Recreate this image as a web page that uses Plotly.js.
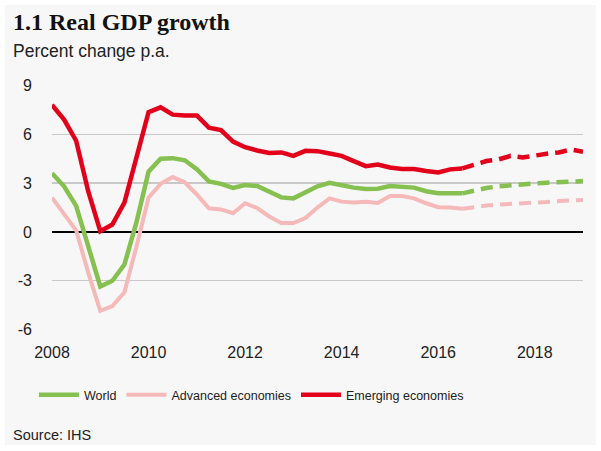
<!DOCTYPE html>
<html>
<head>
<meta charset="utf-8">
<script src="https://cdn.plot.ly/plotly-3.0.1.min.js"></script>
<style>
html,body{margin:0;padding:0;background:#ffffff;}
#chart{position:absolute;left:5px;top:5px;width:591px;height:440px;}
</style>
</head>
<body>
<div id="chart"></div>
<script>
// Quarterly data starting 2008Q1 (actuals through 2016Q3, then forecast)
const startYear = 2008;
const worldActual = [3.6, 2.8, 1.6, -0.9, -3.35, -3.0, -2.0, 0.6, 3.7, 4.5, 4.53, 4.4, 3.85, 3.1, 2.95, 2.7, 2.88, 2.82, 2.5, 2.12, 2.06, 2.4, 2.8, 3.02, 2.85, 2.72, 2.63, 2.65, 2.82, 2.78, 2.72, 2.5, 2.37, 2.37, 2.37];
const advancedActual = [2.1, 1.1, 0.1, -2.5, -4.85, -4.55, -3.7, -0.9, 2.1, 2.95, 3.37, 3.05, 2.3, 1.45, 1.38, 1.15, 1.76, 1.47, 0.95, 0.55, 0.55, 0.85, 1.5, 2.06, 1.86, 1.8, 1.86, 1.78, 2.2, 2.2, 2.06, 1.76, 1.52, 1.5, 1.42];
const emergingActual = [7.8, 6.9, 5.6, 2.5, 0.05, 0.45, 1.8, 4.7, 7.35, 7.65, 7.2, 7.15, 7.15, 6.4, 6.25, 5.55, 5.2, 5.0, 4.85, 4.88, 4.67, 4.98, 4.96, 4.82, 4.67, 4.35, 4.04, 4.14, 3.96, 3.86, 3.86, 3.74, 3.65, 3.84, 3.9];
// Forecast (2016Q3 .. 2019Q1)
const worldForecast = [2.37, 2.55, 2.7, 2.8, 2.88, 2.94, 2.98, 3.02, 3.06, 3.1, 3.12];
const advancedForecast = [1.42, 1.55, 1.62, 1.68, 1.71, 1.74, 1.8, 1.84, 1.9, 1.93, 1.96];
const emergingForecast = [3.9, 4.1, 4.35, 4.45, 4.67, 4.57, 4.7, 4.8, 4.88, 5.06, 4.92];
const seriesNames = ["World", "Advanced economies", "Emerging economies"];
const seriesColors = ["#86c050", "#f6b9b9", "#e2001a"];
const xTicks = [2008, 2010, 2012, 2014, 2016, 2018];
const yTicks = [-6, -3, 0, 3, 6, 9];
const yTickText = ["-6", "-3", "0", "3", "6", "9"];

const qx = (n, offset) => Array.from({length: n}, (_, i) => startYear + (i + offset) / 4);
const nA = worldActual.length;
const xA = qx(nA, 0);
const xF = qx(worldForecast.length, nA - 1);

const sans = "'Liberation Sans', Arial, sans-serif";

const actual = [worldActual, advancedActual, emergingActual];
const forecast = [worldForecast, advancedForecast, emergingForecast];
const widths = [4.5, 4, 4.5];
const drawOrder = [1, 0, 2];
const traces = [];
drawOrder.forEach(k => {
  traces.push({x: xA, y: actual[k], type: 'scatter', mode: 'lines', name: seriesNames[k],
    legendrank: k + 1, line: {color: seriesColors[k], width: widths[k]}, hoverinfo: 'skip'});
});
drawOrder.forEach(k => {
  traces.push({x: xF, y: forecast[k], type: 'scatter', mode: 'lines', showlegend: false,
    line: {color: seriesColors[k], width: widths[k], dash: '12px,7px'}, hoverinfo: 'skip'});
});

const W = 591, H = 440, ML = 47, MR = 13, MT = 80, MB = 115;
const PW = W - ML - MR, PH = H - MT - MB;
const px = x => (x - 5 - ML) / PW;
const py = y => 1 - (y - 5 - MT) / PH;

const layout = {
  width: W, height: H,
  margin: {l: ML, r: MR, t: MT, b: MB, pad: 0},
  paper_bgcolor: '#f7f7f7', plot_bgcolor: '#f7f7f7',
  showlegend: true,
  legend: {orientation: 'h', x: px(34), y: py(395), xanchor: 'left', yanchor: 'middle',
    font: {family: sans, size: 12.5, color: '#222'}, bgcolor: 'rgba(0,0,0,0)', itemwidth: 40,
    traceorder: 'normal'},
  xaxis: {range: [2008, 2019], tickvals: xTicks, ticktext: xTicks.map(String), ticks: '',
    showgrid: false, zeroline: false, showline: false,
    tickfont: {family: sans, size: 16, color: '#222'}, ticklabelstandoff: 11, fixedrange: true},
  yaxis: {range: [-6.02, 9.02], tickvals: yTicks, ticktext: yTickText, ticks: '', showgrid: true,
    gridcolor: '#c8c8c8', gridwidth: 1.3, zeroline: true, zerolinecolor: '#000000', zerolinewidth: 2,
    showline: false, tickfont: {family: sans, size: 16, color: '#222'}, ticklabelstandoff: 19, fixedrange: true},
  annotations: [
    {text: '<b>1.1 Real GDP growth</b>', xref: 'paper', yref: 'paper', x: px(11), y: py(22),
      xanchor: 'left', yanchor: 'middle', showarrow: false,
      font: {family: "'Liberation Serif', 'Times New Roman', serif", size: 24, color: '#111'}},
    {text: 'Percent change p.a.', xref: 'paper', yref: 'paper', x: px(11), y: py(51),
      xanchor: 'left', yanchor: 'middle', showarrow: false,
      font: {family: sans, size: 17.5, color: '#222'}},
    {text: 'Source: IHS', xref: 'paper', yref: 'paper', x: px(11), y: py(435),
      xanchor: 'left', yanchor: 'middle', showarrow: false,
      font: {family: sans, size: 14.5, color: '#222'}}
  ]
};

Plotly.newPlot('chart', traces, layout, {displayModeBar: false, staticPlot: true});
</script>
</body>
</html>
